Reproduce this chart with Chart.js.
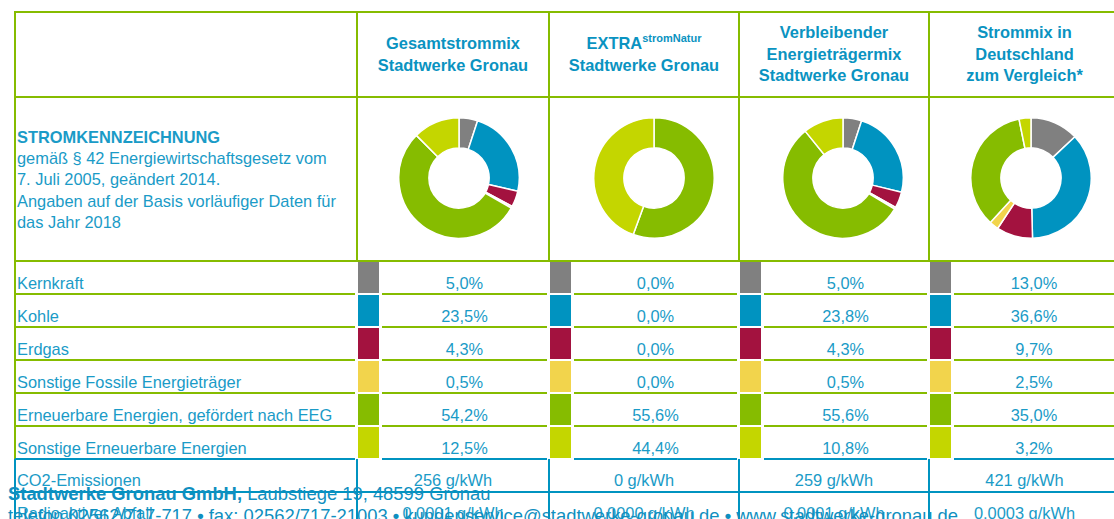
<!DOCTYPE html>
<html>
<head>
<meta charset="utf-8">
<script src="https://cdn.jsdelivr.net/npm/chart.js@4/dist/chart.umd.min.js"></script>
<style>
html, body { margin: 0; padding: 0; background: #fff; }
body {
    width: 1114px; height: 519px; overflow: hidden; position: relative;
    font-family: "Liberation Sans", Arial, sans-serif; color: #1a9bc7;
}
.ln { position: absolute; }
.g { background: #86bc00; }
.b { background: #0093c0; }
.t { position: absolute; font-size: 16.4px; line-height: 18px; white-space: nowrap; }
.head {
    position: absolute; top: 12px; height: 85px; display: flex; align-items: center;
    justify-content: center; text-align: center; font-weight: bold; font-size: 16.4px;
    line-height: 21.5px; color: #0a93c1;
}
.head sup { font-size: 11px; line-height: 0; vertical-align: 7px; }
.intro { position: absolute; left: 17px; top: 99px; height: 162px; display: flex; align-items: center; }
.intro div { font-size: 16.4px; line-height: 21.3px; }
.foot { position: absolute; left: 8px; font-size: 18.4px; line-height: 22px; white-space: nowrap; color: #0f8fc0; }
canvas { position: absolute; }
</style>
</head>
<body>
<script>
// Werte aus der Stromkennzeichnung
const categories = ["Kernkraft", "Kohle", "Erdgas", "Sonstige Fossile Energieträger",
    "Erneuerbare Energien, gefördert nach EEG", "Sonstige Erneuerbare Energien"];
const colors = ["#808080", "#0093c0", "#a3123f", "#f2d44c", "#86bc00", "#c4d600"];
const columnTitles = [
    "Gesamtstrommix<br>Stadtwerke Gronau",
    "EXTRA<sup>stromNatur</sup><br>Stadtwerke Gronau",
    "Verbleibender<br>Energieträgermix<br>Stadtwerke Gronau",
    "Strommix in<br>Deutschland<br>zum Vergleich*"
];
const gesamt = [5.0, 23.5, 4.3, 0.5, 54.2, 12.5];
const extraNatur = [0.0, 0.0, 0.0, 0.0, 55.6, 44.4];
const verbleibend = [5.0, 23.8, 4.3, 0.5, 55.6, 10.8];
const deutschland = [13.0, 36.6, 9.7, 2.5, 35.0, 3.2];
const co2 = [256, 0, 259, 421];
const radioaktiv = [0.0001, 0.0000, 0.0001, 0.0003];

const series = [gesamt, extraNatur, verbleibend, deutschland];
const colX = [15, 357, 549, 739, 929, 1120];
const rowY = [261, 294, 327, 360, 393, 426, 459, 492];
const donutX = [459, 654, 843, 1031];

const de = (v, d) => v.toFixed(d).replace(".", ",");

function box(x, y, w, h, cls) {
    const d = document.createElement("div");
    d.className = "ln " + cls;
    d.style.cssText = `left:${x}px;top:${y}px;width:${w}px;height:${h}px`;
    document.body.appendChild(d);
    return d;
}
function text(str, x, y, w, align) {
    const d = document.createElement("div");
    d.className = "t";
    d.innerHTML = str;
    d.style.left = x + "px";
    d.style.top = y + "px";
    if (w) { d.style.width = w + "px"; d.style.textAlign = align || "center"; }
    document.body.appendChild(d);
}

// Rahmen oben
box(15, 11, 1099, 2, "g");
box(15, 96, 1099, 2, "g");
box(15, 260, 1099, 2, "g");
for (let k = 0; k < 5; k++) box(colX[k] - 1, 11, 2, 250, "g");
box(14, 261, 2, 199, "g");

// Kopfzeilen
columnTitles.forEach((t, k) => {
    const h = document.createElement("div");
    h.className = "head";
    h.style.left = colX[k + 1] + "px";
    h.style.width = (colX[k + 2] - colX[k + 1]) + "px";
    h.innerHTML = "<div>" + t + "</div>";
    document.body.appendChild(h);
});

const intro = document.createElement("div");
intro.className = "intro";
intro.innerHTML = "<div><b>STROMKENNZEICHNUNG</b><br>gemäß § 42 Energiewirtschaftsgesetz vom<br>" +
    "7. Juli 2005, geändert 2014.<br>Angaben auf der Basis vorläufiger Daten für<br>das Jahr 2018</div>";
document.body.appendChild(intro);

// Tabellenzeilen
categories.forEach((cat, i) => {
    const top = rowY[i], bottom = rowY[i + 1];
    text(cat, 17, top + 13);
    const cls = i === 5 ? "b" : "g";
    box(15, bottom - 1, 340, 2, cls);
    for (let k = 0; k < 4; k++) {
        const sx = colX[k + 1] + 1;
        box(sx, top + 1, 21, bottom - top - 2, "").style.background = colors[i];
        const x0 = colX[k + 1] + 25, x1 = k < 3 ? colX[k + 2] - 2 : 1114;
        box(x0, bottom - 1, x1 - x0, 2, cls);
        text(de(series[k][i], 1) + "%", x0, top + 13, x1 - x0);
    }
});

// CO2 und Abfall
box(15, rowY[7] - 1, 1099, 2, "b");
for (let k = 0; k < 5; k++) box(colX[k] - 1, rowY[6], 2, 70, "b");
text("CO2-Emissionen", 17, rowY[6] + 12);
text("Radioaktiver Abfall", 17, rowY[7] + 12);
for (let k = 0; k < 4; k++) {
    const x0 = colX[k + 1], w = colX[k + 2] - x0;
    text(co2[k] + " g/kWh", x0, rowY[6] + 12, w);
    text(de(radioaktiv[k], 4) + " g/kWh", x0, rowY[7] + 12, w);
}

// Fusszeile
const f1 = document.createElement("div");
f1.className = "foot";
f1.style.top = "483px";
f1.innerHTML = "<b>Stadtwerke Gronau GmbH,</b> Laubstiege 19, 48599 Gronau<br>" +
    "telefon 02562/717-717 <b>•</b> fax: 02562/717-21003 <b>•</b> kundenservice@stadtwerke-gronau.de <b>•</b> www.stadtwerke-gronau.de";
document.body.appendChild(f1);

// Ringdiagramme
series.forEach((vals, k) => {
    const c = document.createElement("canvas");
    c.width = 122; c.height = 122;
    c.style.left = (donutX[k] - 61) + "px";
    c.style.top = (178 - 61) + "px";
    document.body.appendChild(c);
    new Chart(c.getContext("2d"), {
        type: "doughnut",
        data: {
            labels: categories,
            datasets: [{
                data: vals,
                backgroundColor: colors,
                borderColor: "#ffffff",
                borderWidth: 1.5
            }]
        },
        options: {
            responsive: false,
            animation: false,
            events: [],
            cutout: "50%",
            devicePixelRatio: 1,
            plugins: { legend: { display: false }, tooltip: { enabled: false } }
        }
    });
});
</script>
</body>
</html>
